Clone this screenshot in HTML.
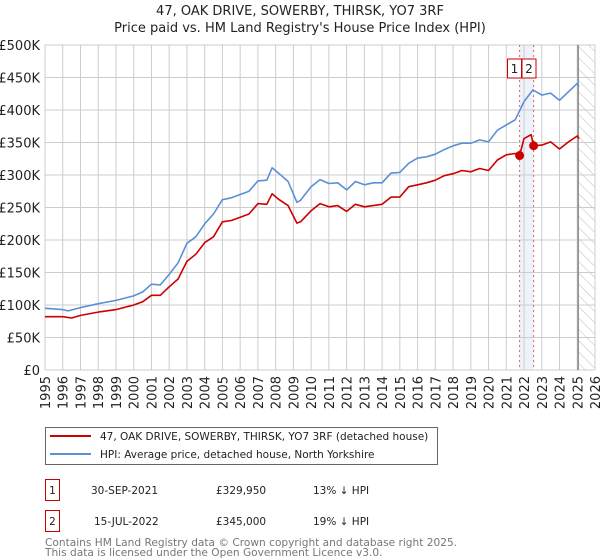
<!DOCTYPE html>
<html><head><meta charset="utf-8"><style>
body{margin:0;background:#fff;font-family:"Liberation Sans","DejaVu Sans",sans-serif;}
#wrap{position:relative;width:600px;height:560px;overflow:hidden}
svg text{font-family:"DejaVu Sans","Liberation Sans",sans-serif;}
</style></head><body><div id="wrap">
<svg id="c" width="600" height="560"></svg>
</div>
<script>
const hpiYears=[1995,1996,1996.3,1997,1998,1999,2000,2000.5,2001,2001.5,2002,2002.5,2003,2003.5,2004,2004.5,2005,2005.5,2006,2006.5,2007,2007.5,2007.8,2008.2,2008.7,2009.2,2009.4,2010,2010.5,2011,2011.5,2012,2012.5,2013,2013.5,2014,2014.5,2015,2015.5,2016,2016.5,2017,2017.5,2018,2018.5,2019,2019.5,2020,2020.5,2021,2021.5,2022,2022.5,2023,2023.5,2024,2024.5,2025,2025.1];
const hpiValues=[95,93,91,96,102,107,114,120,132,131,147,165,195,205,225,240,262,265,270,275,291,292,311,302,290,258,261,282,293,287,288,277,290,285,288,288,303,304,318,326,328,332,339,345,349,349,354,351,369,377,385,413,431,423,426,415,428,441,436];
const ppYears=[1995,1996,1996.5,1997,1998,1999,2000,2000.5,2001,2001.5,2002,2002.5,2003,2003.5,2004,2004.5,2005,2005.5,2006,2006.5,2007,2007.5,2007.8,2008.2,2008.7,2009.2,2009.4,2010,2010.5,2011,2011.5,2012,2012.5,2013,2013.5,2014,2014.5,2015,2015.5,2016,2016.5,2017,2017.5,2018,2018.5,2019,2019.5,2020,2020.5,2021,2021.5,2021.75,2022,2022.4,2022.54,2023,2023.5,2024,2024.5,2025,2025.1];
const ppValues=[82,82,80,84,89,93,100,105,115,115,128,140,167,178,196,205,228,230,235,240,256,255,271,262,253,226,228,245,256,251,253,244,255,251,253,255,266,266,282,285,288,292,299,302,307,305,310,307,323,331,333,329.95,356,362,345,346,351,340,351,360,356];
const saleYears=[2021.75,2022.54];
const saleValues=[329.95,345];
const saleLabels=["1","2"];
const yTicks=[0,50,100,150,200,250,300,350,400,450,500];
const yTickLabels=["£0","£50K","£100K","£150K","£200K","£250K","£300K","£350K","£400K","£450K","£500K"];
const xTicks=[1995,1996,1997,1998,1999,2000,2001,2002,2003,2004,2005,2006,2007,2008,2009,2010,2011,2012,2013,2014,2015,2016,2017,2018,2019,2020,2021,2022,2023,2024,2025,2026];

const L=45,R=595,T=45,B=370;
const xs=y=>L+(y-1995)/(2026-1995)*(R-L);
const ys=v=>B-v/500*(B-T);
const svg=document.getElementById('c');
const NS='http://www.w3.org/2000/svg';
function mk(t,a,p){const e=document.createElementNS(NS,t);for(const k in a)e.setAttribute(k,a[k]);(p||svg).appendChild(e);return e;}

let e;
e=mk('text',{x:300,y:15,'text-anchor':'middle','font-size':13,fill:'#222'});e.textContent='47, OAK DRIVE, SOWERBY, THIRSK, YO7 3RF';


e=mk('text',{x:300,y:32,'text-anchor':'middle','font-size':13,fill:'#222'});e.textContent="Price paid vs. HM Land Registry's House Price Index (HPI)";



e=mk('rect',{x:xs(saleYears[0]),y:T,width:xs(saleYears[1])-xs(saleYears[0]),height:B-T,fill:'#eef3fb'});


const defs=mk('defs',{});
const pat=mk('pattern',{id:'h',width:8,height:8,patternUnits:'userSpaceOnUse',patternTransform:'rotate(-45)'},defs);
mk('line',{x1:0,y1:0,x2:0,y2:8,stroke:'#bbb','stroke-width':1},pat);
e=mk('rect',{x:xs(2025.05),y:T,width:R-xs(2025.05),height:B-T,fill:'url(#h)'});



yTicks.forEach((v,i)=>{
 e=mk('line',{x1:L,x2:R,y1:ys(v),y2:ys(v),stroke:'#cccccc','stroke-width':1});
 
 
 e=mk('text',{x:L-5,y:ys(v)+5,'text-anchor':'end','font-size':13,fill:'#222'});e.textContent=yTickLabels[i];
 
 
});
xTicks.forEach(y=>{
 e=mk('line',{x1:xs(y),x2:xs(y),y1:T,y2:B,stroke:'#cccccc','stroke-width':1});
 
 
 e=mk('text',{x:0,y:0,'text-anchor':'end','font-size':13,fill:'#222',transform:`translate(${xs(y)+5},${B+6}) rotate(-90)`});e.textContent=y;
 
 
});
e=mk('line',{x1:xs(2025.05),x2:xs(2025.05),y1:T,y2:B,stroke:'#888','stroke-width':1.5});


saleYears.forEach(y=>{
 e=mk('line',{x1:xs(y),x2:xs(y),y1:T,y2:B,stroke:'#e06060','stroke-width':1,'stroke-dasharray':'2,3'});
 
 
});
function path(xa,va,col,name){
 const d=xa.map((x,i)=>(i?'L':'M')+xs(x).toFixed(1)+','+ys(va[i]).toFixed(1)).join('');
 const p=mk('path',{d:d,fill:'none',stroke:col,'stroke-width':1.6,'stroke-linejoin':'round'});
 
 
}
path(hpiYears,hpiValues,'#5b8fd6','hpi-line');
path(ppYears,ppValues,'#cc0000','price-paid-line');
saleYears.forEach((y,i)=>{
 e=mk('circle',{cx:xs(y),cy:ys(saleValues[i]),r:4.5,fill:'#cc0000'});
 
 
 e=mk('rect',{x:i===0?507.5:522,y:59,width:14,height:19,fill:'#fff',stroke:'#cc0000','stroke-width':1});
 
 
 e=mk('text',{x:(i===0?507.5:522)+7,y:73,'text-anchor':'middle','font-size':12,fill:'#222'});e.textContent=saleLabels[i];
 
 
});

e=mk('rect',{x:45.5,y:427.5,width:392,height:37,fill:'#fff',stroke:'#666','stroke-width':1});


e=mk('line',{x1:50,x2:91,y1:436,y2:436,stroke:'#cc0000','stroke-width':2});


e=mk('text',{x:100,y:440,'font-size':10.5,fill:'#222'});e.textContent='47, OAK DRIVE, SOWERBY, THIRSK, YO7 3RF (detached house)';


e=mk('line',{x1:50,x2:91,y1:454,y2:454,stroke:'#5b8fd6','stroke-width':2});


e=mk('text',{x:100,y:458,'font-size':10.5,fill:'#222'});e.textContent='HPI: Average price, detached house, North Yorkshire';



const rows=[["1","30-SEP-2021","£329,950","13% ↓ HPI",479],["2","15-JUL-2022","£345,000","19% ↓ HPI",510]];
rows.forEach(r=>{
 e=mk('rect',{x:45.5,y:r[4]+0.5,width:14,height:21,fill:'#fff',stroke:'#cc0000','stroke-width':1});
 
 
 e=mk('text',{x:52.5,y:r[4]+15,'text-anchor':'middle','font-size':10.5,fill:'#222'});e.textContent=r[0];
 
 
 e=mk('text',{x:r[0]==="1"?91:94,y:r[4]+15,'font-size':10.5,fill:'#222'});e.textContent=r[1];
 
 
 e=mk('text',{x:216,y:r[4]+15,'font-size':10.5,fill:'#222'});e.textContent=r[2];
 
 
 e=mk('text',{x:313,y:r[4]+15,'font-size':10.5,fill:'#222'});e.textContent=r[3];
 
 
});
e=mk('text',{x:45,y:546,'font-size':10.6,fill:'#777'});e.textContent='Contains HM Land Registry data © Crown copyright and database right 2025.';


e=mk('text',{x:45,y:556,'font-size':10.6,fill:'#777'});e.textContent='This data is licensed under the Open Government Licence v3.0.';


</script></body></html>
